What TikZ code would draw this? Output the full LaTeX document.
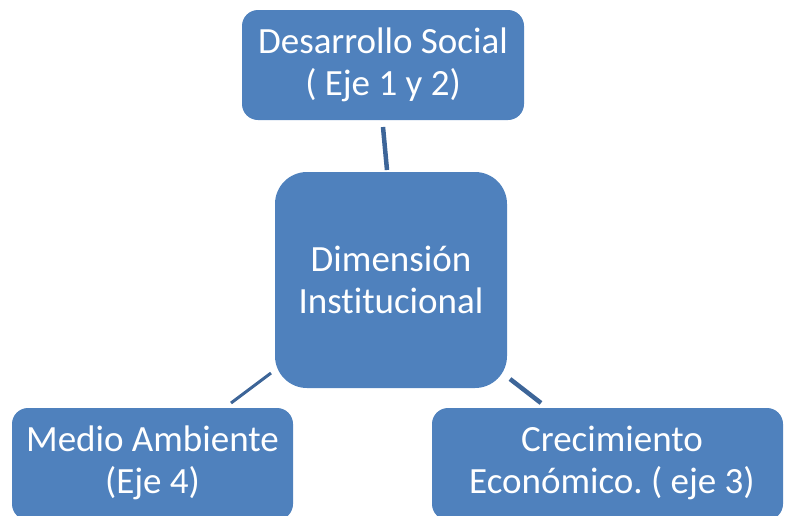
\documentclass[tikz,border=0pt]{standalone}
\usepackage{fontspec}
\setmainfont{Carlito}[RawFeature=-liga]
\frenchspacing
\definecolor{boxblue}{HTML}{4F81BD}
\definecolor{linkblue}{HTML}{3D6598}
\begin{document}
\begin{tikzpicture}[x=1pt,y=-1pt,
  box/.style={text=white,align=center,inner sep=0pt,
    font=\fontsize{37}{42}\selectfont},
  link/.style={draw=linkblue,line width=4.5pt}]
\useasboundingbox (0,0) rectangle (786,515);
\clip (0,0) rectangle (786,515);
\fill[boxblue,rounded corners=16pt] (242,10) rectangle (524,120);
\node[box] (top) at (383,65) {Desarrollo Social\\( Eje 1 y 2)};
\fill[boxblue,rounded corners=32pt] (275,172) rectangle (507,388);
\node[box] (mid) at (391,280) {Dimensión\\Institucional};
\fill[boxblue,rounded corners=16pt] (12,408) rectangle (293,520);
\node[box] (left) at (152.5,463) {Medio Ambiente\\(Eje 4)};
\fill[boxblue,rounded corners=16pt] (432,408) rectangle (783,520);
\node[box] (right) at (612,463) {Crecimiento\\Económico. ( eje 3)};
\coordinate (t1) at (383,127);
\coordinate (t2) at (387,170);
\coordinate (l1) at (231,403);
\coordinate (l2) at (271,373);
\coordinate (r1) at (510,379);
\coordinate (r2) at (541,403);
\draw[link] (t1) -- (t2);
\draw[link,line width=3pt] (l1) -- (l2);
\draw[link] (r1) -- (r2);
\end{tikzpicture}
\end{document}
